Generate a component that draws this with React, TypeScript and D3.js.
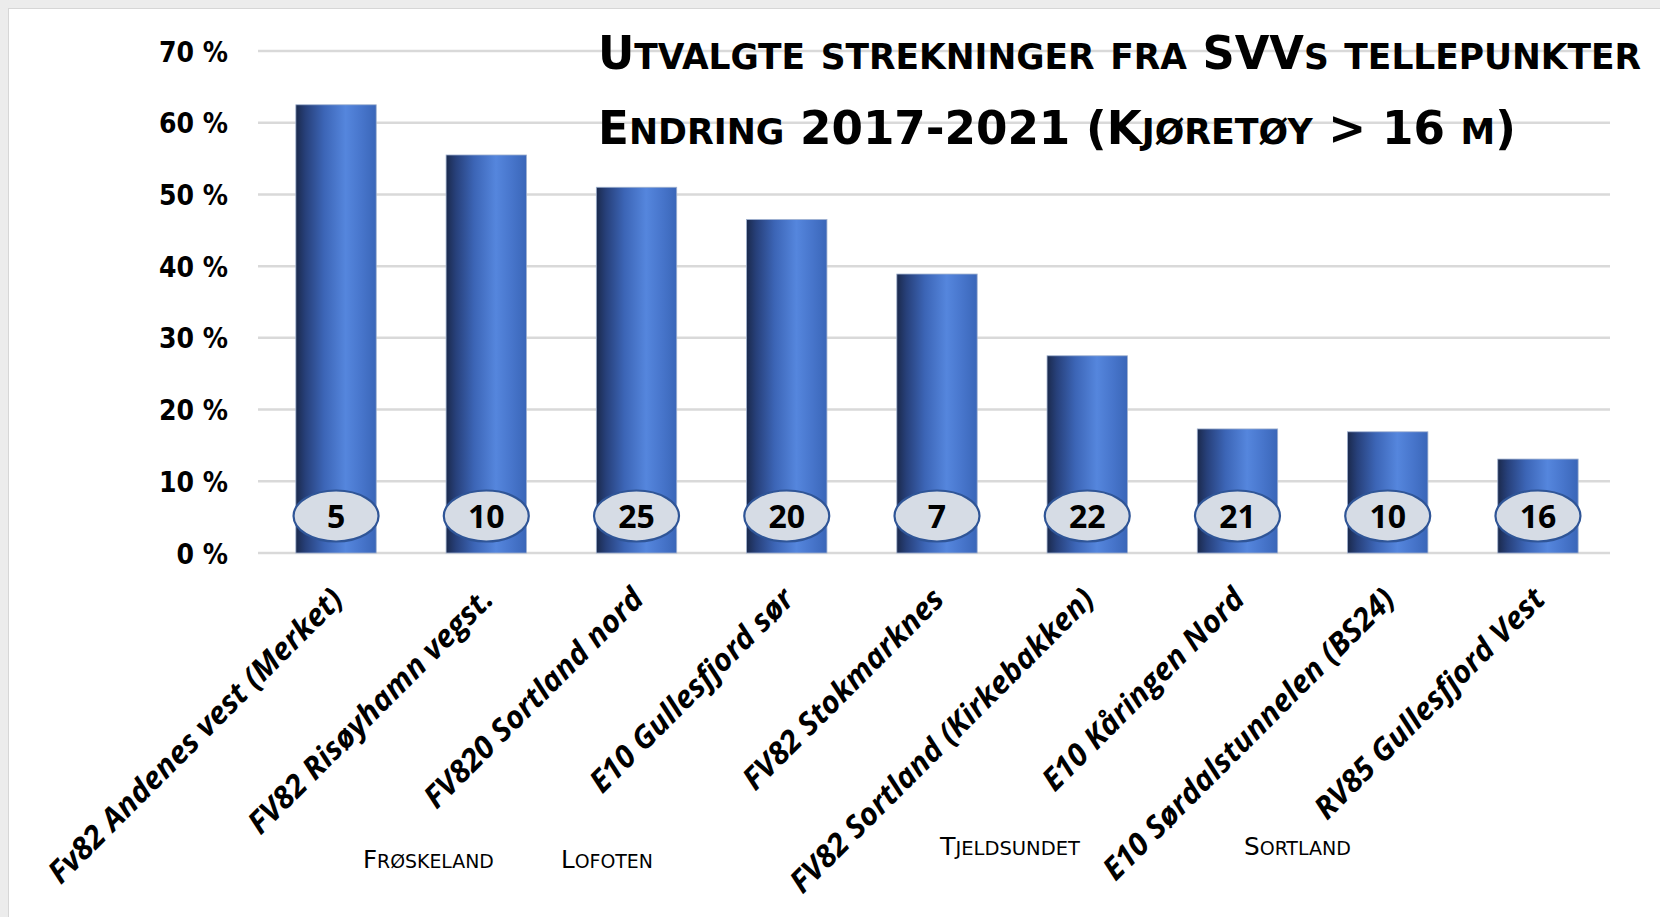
import React, { useEffect, useRef } from 'react';
import * as d3 from 'd3';

// chart data
const categories = [
  'Fv82 Andenes vest (Merket)',
  'FV82 Risøyhamn vegst.',
  'FV820 Sortland nord',
  'E10 Gullesfjord sør',
  'FV82 Stokmarknes',
  'FV82 Sortland (Kirkebakken)',
  'E10 Kåringen Nord',
  'E10 Sørdalstunnelen (BS24)',
  'RV85 Gullesfjord Vest',
];
const changeValues = [0.625, 0.555, 0.51, 0.465, 0.389, 0.275, 0.173, 0.169, 0.131];
const stationCounts = [5, 10, 25, 20, 7, 22, 21, 10, 16];
const yTickValues = [0, 0.1, 0.2, 0.3, 0.4, 0.5, 0.6, 0.7];
const titleLines = ['Utvalgte strekninger fra SVVs tellepunkter', 'Endring 2017-2021 (Kjøretøy > 16 m)'];
const areaNotes = ['Frøskeland', 'Lofoten', 'Tjeldsundet', 'Sortland'];

const W = 1660;
const H = 917;
const condensed = '"DejaVu Sans Condensed", "DejaVu Sans", sans-serif';

// split text into runs so lower case letters become small capitals
function smallCapsRuns(text: string) {
  const runs: { t: string; small: boolean }[] = [];
  for (const ch of text) {
    const small = ch !== ch.toUpperCase();
    const last = runs[runs.length - 1];
    if (last && last.small === small) last.t += ch.toUpperCase();
    else runs.push({ t: ch.toUpperCase(), small });
  }
  return runs;
}

function addSmallCaps(g: any, text: string, x: number, y: number, size: number, weight: string, width: number) {
  const t = g.append('text')
    .attr('x', 0)
    .attr('y', 0)
    .style('font-family', condensed)
    .style('font-weight', weight)
    .style('font-size', size + 'px')
    .attr('fill', '#000');
  smallCapsRuns(text).forEach(r => {
    t.append('tspan')
      .style('font-size', (r.small ? size * 0.77 : size) + 'px')
      .text(r.t);
  });
  const w = (t.node() as SVGTextElement).getComputedTextLength();
  const sx = w > 0 ? width / w : 1;
  t.attr('transform', `translate(${x},${y}) scale(${sx},1)`);
}

function App() {
  const ref = useRef<SVGSVGElement>(null);

  useEffect(() => {
    const svg = d3.select(ref.current);
    svg.selectAll('*').remove();

    const margin = { top: 51, left: 258, right: 50, bottom: 364 };
    const x = d3.scaleBand()
      .domain(categories)
      .range([margin.left + 3, W - margin.right + 3])
      .paddingInner(0.465)
      .paddingOuter(0.232);
    const y = d3.scaleLinear()
      .domain([0, 0.7])
      .range([H - margin.bottom, margin.top]);

    const defs = svg.append('defs');
    const grad = defs.append('linearGradient')
      .attr('id', 'barGrad')
      .attr('x1', 0).attr('x2', 1).attr('y1', 0).attr('y2', 0);
    [
      [0, '#1b2a4d'],
      [0.12, '#27407a'],
      [0.35, '#3c65b6'],
      [0.62, '#5586dd'],
      [0.82, '#4775cb'],
      [1, '#3a66b8'],
    ].forEach(([o, c]) => grad.append('stop').attr('offset', o as number).attr('stop-color', c as string));

    // frame
    svg.append('rect').attr('width', W).attr('height', H).attr('fill', '#fff');
    svg.append('rect').attr('width', W).attr('height', 8).attr('fill', '#ececec');
    svg.append('rect').attr('width', 8).attr('height', H).attr('fill', '#ececec');
    svg.append('line').attr('x1', 8).attr('x2', W).attr('y1', 8.5).attr('y2', 8.5).attr('stroke', '#d6d6d6');
    svg.append('line').attr('x1', 8.5).attr('x2', 8.5).attr('y1', 8).attr('y2', H).attr('stroke', '#d6d6d6');

    // gridlines
    svg.append('g')
      .selectAll('line')
      .data(yTickValues)
      .enter()
      .append('line')
      .attr('x1', margin.left)
      .attr('x2', W - margin.right)
      .attr('y1', d => y(d))
      .attr('y2', d => y(d))
      .attr('stroke', '#d9d9d9')
      .attr('stroke-width', 2.5);

    // y axis labels
    const yAxis = d3.axisLeft(y)
      .tickValues(yTickValues)
      .tickSize(0)
      .tickPadding(0)
      .tickFormat(d => Math.round((d as number) * 100) + ' %');
    const ya = svg.append('g')
      .attr('transform', `translate(228,0)`)
      .call(yAxis);
    ya.select('.domain').remove();
    ya.selectAll('text')
      .attr('dy', '0.36em')
      .style('font-family', condensed)
      .style('font-weight', 'bold')
      .style('font-size', '28px')
      .attr('fill', '#000');

    // title
    const tg = svg.append('g');
    addSmallCaps(tg, titleLines[0], 598, 69, 47, 'bold', 1043);
    addSmallCaps(tg, titleLines[1], 598, 144, 47, 'bold', 918);

    // bars
    const idx = d3.range(categories.length);
    svg.append('g')
      .selectAll('rect')
      .data(idx)
      .enter()
      .append('rect')
      .attr('x', i => x(categories[i])!)
      .attr('y', i => y(changeValues[i]))
      .attr('width', x.bandwidth())
      .attr('height', i => y(0) - y(changeValues[i]))
      .attr('fill', 'url(#barGrad)')
      .attr('stroke', '#9fb0cf')
      .attr('stroke-width', 0.8);

    // station count bubbles
    const bub = svg.append('g')
      .selectAll('g')
      .data(idx)
      .enter()
      .append('g')
      .attr('transform', i => `translate(${x(categories[i])! + x.bandwidth() / 2},${y(0) - 37})`);
    bub.append('ellipse')
      .attr('rx', 42.5)
      .attr('ry', 25.5)
      .attr('fill', '#d6dce5')
      .attr('stroke', '#2f5597')
      .attr('stroke-width', 2.2);
    bub.append('text')
      .attr('text-anchor', 'middle')
      .attr('dy', '0.36em')
      .style('font-family', '"Open Sans", sans-serif')
      .style('font-weight', 'bold')
      .style('font-size', '32px')
      .attr('fill', '#000')
      .text(i => stationCounts[i]);

    // category labels
    svg.append('g')
      .selectAll('text')
      .data(idx)
      .enter()
      .append('text')
      .attr('transform', i => `translate(${x(categories[i])! + x.bandwidth() / 2 + 9},${y(0) + 48}) rotate(-45)`)
      .attr('text-anchor', 'end')
      .style('font-family', '"Open Sans", sans-serif')
      .style('font-weight', 'bold')
      .style('font-style', 'italic')
      .style('font-size', '31px')
      .attr('fill', '#000')
      .text(i => categories[i]);

    // area notes under the labels
    const notePos = [
      { x: 363, y: 868, w: 131 },
      { x: 561, y: 868, w: 92 },
      { x: 940, y: 855, w: 140 },
      { x: 1244, y: 855, w: 107 },
    ];
    const ng = svg.append('g');
    areaNotes.forEach((n, i) => addSmallCaps(ng, n, notePos[i].x, notePos[i].y, 25, 'normal', notePos[i].w));
  });

  return (
    <div style={{ position: 'absolute', left: 0, top: 0 }}>
      <svg ref={ref} width={W} height={H} style={{ display: 'block' }} />
    </div>
  );
}

export default App;
